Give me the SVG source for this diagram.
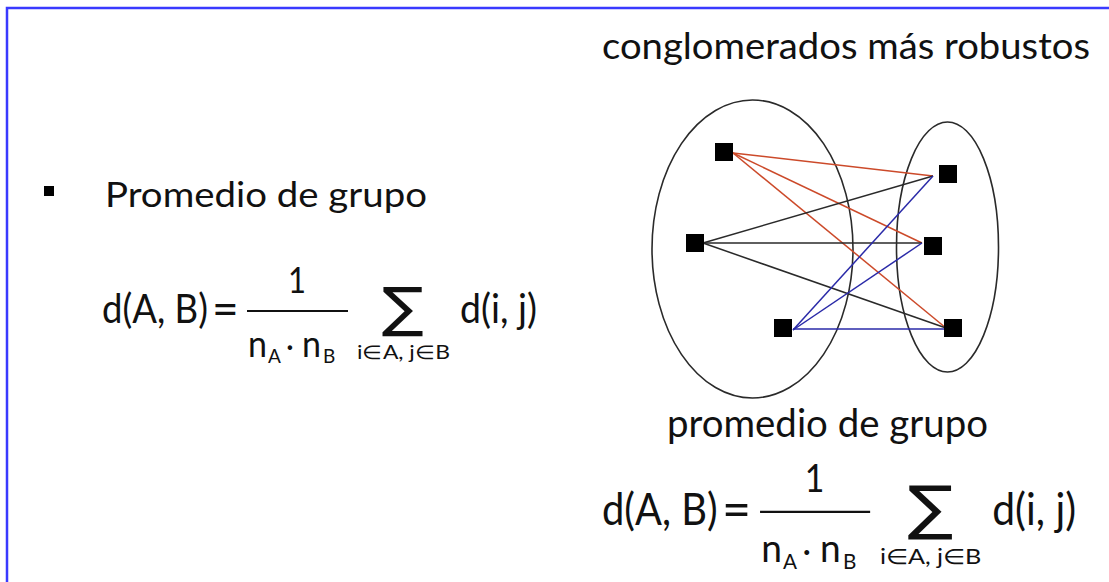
<svg xmlns="http://www.w3.org/2000/svg" width="1109" height="582" viewBox="0 0 1109 582">
<style>
  .t { font-family: Lato, "Open Sans", "Liberation Sans", sans-serif; fill: #111; }
  .ell { fill: none; stroke: #2a2a2a; stroke-width: 1.6; }
  .node { fill: #000; }
  .red { stroke: #cc4a2a; stroke-width: 1.5; }
  .blk { stroke: #2a2a2a; stroke-width: 1.5; }
  .blu { stroke: #2a2aa8; stroke-width: 1.5; }
  .border { stroke: #3a3aff; stroke-width: 2.5; fill: none; }
</style>
<defs>
  <g id="formula">
    <text class="t" x="102" y="323" font-size="40" textLength="106" lengthAdjust="spacingAndGlyphs">d(A, B)</text>
    <text class="t" x="212" y="325" font-size="46">=</text>
    <line x1="247" y1="311" x2="348" y2="311" stroke="#111" stroke-width="2"/>
    <text class="t" x="288" y="293" font-size="36" textLength="18" lengthAdjust="spacingAndGlyphs">1</text>
    <text class="t" x="248" y="357" font-size="36" textLength="19" lengthAdjust="spacingAndGlyphs">n</text>
    <text class="t" x="268" y="363" font-size="19">A</text>
    <text class="t" x="286" y="357" font-size="30">·</text>
    <text class="t" x="302" y="357" font-size="36" textLength="19" lengthAdjust="spacingAndGlyphs">n</text>
    <text class="t" x="323" y="363" font-size="19">B</text>
    <text x="382" y="326" font-size="54" font-family="'DejaVu Sans', sans-serif" fill="#111" textLength="42" lengthAdjust="spacingAndGlyphs">∑</text>
    <text class="t" x="357" y="359" font-size="19" textLength="93" lengthAdjust="spacingAndGlyphs">i∈A, j∈B</text>
    <text class="t" x="460" y="323" font-size="40" textLength="77" lengthAdjust="spacingAndGlyphs">d(i, j)</text>
  </g>
</defs>
<rect width="1109" height="582" fill="#fff"/>
<polyline class="border" points="7,582 7,8 1109,8"/>

<g id="title">
  <text class="t" x="602" y="59" font-size="37" textLength="488" lengthAdjust="spacingAndGlyphs">conglomerados más robustos</text>
</g>

<g id="bullet">
  <rect x="44" y="186" width="10" height="10" fill="#000"/>
  <text class="t" x="105" y="207" font-size="35" textLength="322" lengthAdjust="spacingAndGlyphs">Promedio de grupo</text>
</g>

<g id="formula-left">
  <use href="#formula"/>
</g>

<g id="clusters">
  <ellipse class="ell" cx="752.5" cy="249" rx="100.5" ry="149"/>
  <ellipse class="ell" cx="947.5" cy="247" rx="51" ry="125"/>
</g>

<g id="connectors">
  <line class="red" x1="733" y1="153" x2="933" y2="176"/>
  <line class="red" x1="733" y1="153" x2="922" y2="243"/>
  <line class="red" x1="733" y1="153" x2="946" y2="328"/>
  <line class="blk" x1="703" y1="243" x2="933" y2="176"/>
  <line class="blk" x1="703" y1="243" x2="922" y2="243"/>
  <line class="blk" x1="703" y1="243" x2="946" y2="328"/>
  <line class="blu" x1="793" y1="330" x2="933" y2="176"/>
  <line class="blu" x1="793" y1="330" x2="922" y2="243"/>
  <line class="blu" x1="793" y1="329" x2="944" y2="329"/>
</g>

<g id="node-a1"><rect class="node" x="715" y="143" width="18" height="18"/></g>
<g id="node-a2"><rect class="node" x="686" y="234" width="18" height="18"/></g>
<g id="node-a3"><rect class="node" x="774" y="319" width="18" height="18"/></g>
<g id="node-b1"><rect class="node" x="939" y="165" width="18" height="18"/></g>
<g id="node-b2"><rect class="node" x="924" y="237" width="18" height="18"/></g>
<g id="node-b3"><rect class="node" x="944" y="319" width="18" height="18"/></g>

<g id="subtitle">
  <text class="t" x="667" y="437" font-size="38" textLength="321" lengthAdjust="spacingAndGlyphs">promedio de grupo</text>
</g>

<g id="formula-right">
  <use href="#formula" transform="translate(602,525) scale(1.09) translate(-102,-323)"/>
</g>
</svg>
